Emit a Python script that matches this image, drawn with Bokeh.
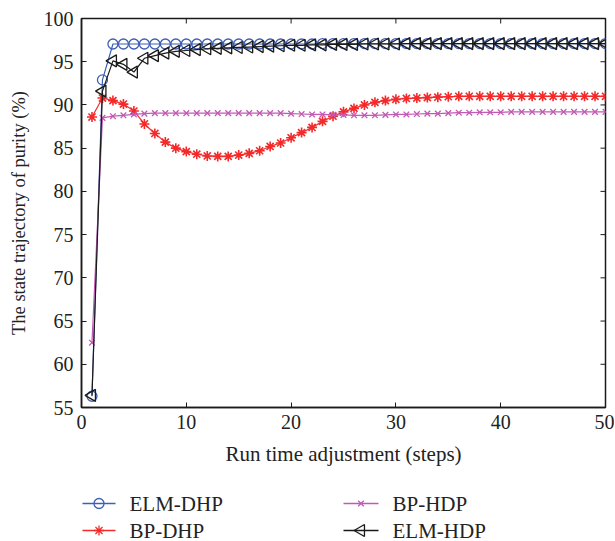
import numpy as np
from bokeh.plotting import figure
from bokeh.models import Range1d, FixedTicker
from bokeh.layouts import column
from bokeh.core.properties import value
from bokeh.embed import file_html
from bokeh.resources import INLINE

steps = list(range(1, 51))

elm_dhp = [56.3, 92.9] + [97.05] * 20 + [97.1] * 28

bp_dhp = [88.6, 90.8, 90.5, 90.1, 89.3, 87.8, 86.7, 85.7, 85.0, 84.6,
          84.3, 84.1, 84.05, 84.05, 84.2, 84.4, 84.7, 85.2, 85.6, 86.2,
          86.8, 87.4, 88.1, 88.7, 89.2, 89.6, 90.0, 90.3, 90.5, 90.65,
          90.75, 90.8, 90.85, 90.9, 90.95, 91.0, 91.0, 91.0, 91.0, 91.0,
          91.0, 91.0, 91.0, 91.0, 91.0, 91.0, 91.0, 91.0, 91.0, 91.0]

bp_hdp = [62.5, 88.5, 88.7, 88.8, 88.9, 89.0, 89.05, 89.05, 89.05, 89.05,
          89.05, 89.05, 89.05, 89.05, 89.05, 89.05, 89.05, 89.05, 89.05, 89.0,
          88.95, 88.9, 88.9, 88.85, 88.85, 88.8, 88.8, 88.8, 88.85, 88.9,
          88.9, 88.95, 89.0, 89.0, 89.05, 89.1, 89.1, 89.15, 89.15, 89.15,
          89.2, 89.2, 89.2, 89.2, 89.2, 89.2, 89.2, 89.2, 89.2, 89.2]

elm_hdp = [56.4, 91.6, 95.1, 94.7, 93.8, 95.4, 95.7, 96.0, 96.2, 96.3,
           96.4, 96.5, 96.55, 96.6, 96.65, 96.7, 96.75, 96.8, 96.85, 96.9,
           96.9, 96.95, 96.95, 97.0, 97.0, 97.0, 97.05, 97.05, 97.05, 97.05] + [97.1] * 20

series_names = ["ELM-DHP", "BP-DHP", "BP-HDP", "ELM-HDP"]
x_ticks = [0, 10, 20, 30, 40, 50]
y_ticks = [55, 60, 65, 70, 75, 80, 85, 90, 95, 100]

FONT = "Liberation Serif"
BLUE = "#3f5fb4"
RED = "#f42a2a"
MAG = "#c25ab4"
BLACK = "#1a1a1a"
TXT = "#222222"

p = figure(width=614, height=471, output_backend="svg", toolbar_location=None,
           x_range=Range1d(x_ticks[0], x_ticks[-1]), y_range=Range1d(y_ticks[0], y_ticks[-1]),
           min_border_left=81, min_border_right=9, min_border_top=18,
           min_border_bottom=64)
p.grid.visible = False
p.outline_line_color = BLACK
p.outline_line_width = 1.5
p.background_fill_color = "white"
p.border_fill_color = "white"

for ax in (p.xaxis[0], p.yaxis[0]):
    ax.major_label_text_font = FONT
    ax.major_label_text_font_size = "20px"
    ax.major_label_text_color = TXT
    ax.axis_label_text_font = FONT
    ax.axis_label_text_font_style = "normal"
    ax.axis_label_text_color = TXT
    ax.axis_line_color = BLACK
    ax.axis_line_width = 1.5
    ax.major_tick_line_color = BLACK
    ax.major_tick_in = 5
    ax.major_tick_out = 0
    ax.minor_tick_line_color = None

p.xaxis[0].ticker = FixedTicker(ticks=x_ticks)
p.yaxis[0].ticker = FixedTicker(ticks=y_ticks)
p.xaxis[0].axis_label = "Run time adjustment (steps)"
p.yaxis[0].axis_label = "The state trajectory of purity (%)"
p.xaxis[0].axis_label_text_font_size = "21px"
p.yaxis[0].axis_label_text_font_size = "18.5px"
p.xaxis[0].major_label_standoff = 7
p.xaxis[0].axis_label_standoff = 10
p.yaxis[0].major_label_standoff = 8
p.yaxis[0].axis_label_standoff = 12

# inner ticks on the top and right edges of the box
p.scatter(x_ticks, [y_ticks[-1]] * len(x_ticks), marker="dash", angle=np.pi / 2,
          size=10, line_color=BLACK, line_width=1)
p.scatter([x_ticks[-1]] * len(y_ticks), y_ticks, marker="dash",
          size=10, line_color=BLACK, line_width=1)

p.line(steps, elm_dhp, line_color=BLUE, line_width=1.2)
p.scatter(steps, elm_dhp, marker="circle", size=10, fill_color=None,
          line_color=BLUE, line_width=1.3)

p.line(steps, bp_dhp, line_color=RED, line_width=1.2)
p.scatter(steps, bp_dhp, marker="asterisk", size=10, line_color=RED, line_width=1.6)

p.line(steps, bp_hdp, line_color=MAG, line_width=1.2)
p.scatter(steps, bp_hdp, marker="x", size=8, line_color=MAG, line_width=1.3)

p.line(steps, elm_hdp, line_color=BLACK, line_width=1.2)
p.scatter(steps, elm_hdp, marker="triangle", angle=np.pi / 2, size=12,
          fill_color=None, line_color=BLACK, line_width=1.3)

# ---- legend strip: a pixel-scaled figure whose frame matches the plot frame ----
lg = figure(width=614, height=70, output_backend="svg", toolbar_location=None,
            x_range=Range1d(81, 605), y_range=Range1d(0, 70),
            x_axis_type=None, y_axis_type=None,
            min_border_left=81, min_border_right=9, min_border_top=0, min_border_bottom=0)
lg.grid.visible = False
lg.outline_line_color = None
lg.background_fill_color = "white"
lg.border_fill_color = "white"

# legend slots: (line start, line end, label x, row y) per series
slot_x0 = [82, 82, 343, 343]
slot_x1 = [115, 115, 378, 378]
slot_tx = [129, 129, 392, 392]
slot_y = [38, 11, 38, 11]
colors = [BLUE, RED, MAG, BLACK]
markers = ["circle", "asterisk", "x", "triangle"]
sizes = [10, 10, 8, 12]
angles = [0, 0, 0, np.pi / 2]

lg.segment(x0=slot_x0, y0=slot_y, x1=slot_x1, y1=slot_y, line_color=colors, line_width=1.3)
for i in range(4):
    cx = (slot_x0[i] + slot_x1[i]) / 2
    lg.scatter([cx], [slot_y[i]], marker=markers[i], size=sizes[i], angle=angles[i],
               fill_color=None, line_color=colors[i], line_width=1.3)
lg.text(x=slot_tx, y=slot_y, text=series_names, text_font=value(FONT),
        text_font_size="21px", text_color=TXT, text_baseline="middle", text_align="left")

layout = column(p, lg, spacing=0)
open("out.html", "w").write(file_html(layout, INLINE))
